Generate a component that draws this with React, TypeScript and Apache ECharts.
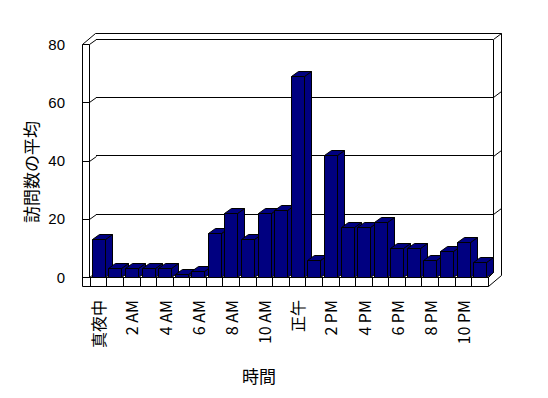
import React, { useEffect, useRef } from 'react';
import * as echarts from 'echarts';

const categories = ['真夜中', '1 AM', '2 AM', '3 AM', '4 AM', '5 AM', '6 AM', '7 AM', '8 AM', '9 AM', '10 AM', '11 AM',
  '正午', '1 PM', '2 PM', '3 PM', '4 PM', '5 PM', '6 PM', '7 PM', '8 PM', '9 PM', '10 PM', '11 PM'];
const visits = [13, 3, 3, 3, 3, 1, 2, 15, 22, 13, 22, 23, 69, 6, 42, 17, 17, 19, 10, 10, 6, 9, 12, 5];
const yTicks = [0, 20, 40, 60, 80];
const yName = '訪問数の平均';
const xName = '時間';

const NAVY = '#000080';
const DX = 7;
const DY = -5;

export default function App() {
  const ref = useRef<HTMLDivElement>(null);
  useEffect(() => {
    document.body.style.margin = '0';
    const chart = echarts.init(ref.current!, null, { renderer: 'svg' });
    const cjk = '"Noto Sans CJK JP", "Liberation Sans", sans-serif';
    chart.setOption({
      animation: false,
      backgroundColor: '#ffffff',
      grid: [
        { left: 90, top: 44, width: 398, height: 233 },
        { left: 96, top: 39, width: 397, height: 174.75 },
      ],
      xAxis: [
        {
          type: 'category',
          gridIndex: 0,
          data: categories,
          axisLine: { show: true, lineStyle: { color: '#000', width: 1 } },
          axisTick: { show: true, interval: 0, length: 9, lineStyle: { color: '#000' } },
          axisLabel: {
            interval: 1,
            rotate: 90,
            margin: 23,
            color: '#000',
            fontSize: 16,
            fontFamily: cjk,
          },
          splitLine: { show: false },
        },
        { type: 'value', gridIndex: 1, show: false, min: 0, max: 1 },
      ],
      yAxis: [
        {
          type: 'value',
          gridIndex: 0,
          min: 0,
          max: 80,
          interval: 20,
          axisLine: { show: false },
          axisTick: { show: false },
          splitLine: { show: false },
          axisLabel: { margin: 25, color: '#000', fontSize: 15, fontFamily: '"Liberation Sans", sans-serif' },
        },
        {
          type: 'value',
          gridIndex: 1,
          min: 20,
          max: 80,
          interval: 20,
          axisLine: { show: false },
          axisTick: { show: false },
          axisLabel: { show: false },
          splitLine: { show: true, lineStyle: { color: '#000', width: 1 } },
        },
      ],
      series: [
        {
          type: 'custom',
          xAxisIndex: 0,
          yAxisIndex: 0,
          z: 5,
          data: visits.map((v, i) => [i, v]),
          renderItem: (params: any, api: any) => {
            const i = api.value(0);
            const v = api.value(1);
            const top = api.coord([i, v]);
            const base = api.coord([i, 0]);
            const bw = Math.round(api.size([1, 0])[0] * 0.76);
            const x0 = Math.round(top[0] - bw / 2) + 0.5;
            const x1 = x0 + bw;
            const y = Math.round(top[1]) + 0.5;
            const y0 = Math.round(base[1]) + 0.5;
            const st = { fill: NAVY, stroke: '#000', lineWidth: 1 };
            return {
              type: 'group',
              children: [
                { type: 'polygon', shape: { points: [[x1, y], [x1 + DX, y + DY], [x1 + DX, y0 + DY], [x1, y0]] }, style: st },
                { type: 'polygon', shape: { points: [[x0, y], [x0 + DX, y + DY], [x1 + DX, y + DY], [x1, y]] }, style: st },
                { type: 'polygon', shape: { points: [[x0, y], [x1, y], [x1, y0], [x0, y0]] }, style: st },
              ],
            };
          },
        },
      ],
    });

    const yp = (v: number) => Math.round(chart.convertToPixel({ yAxisIndex: 0 }, v) as number) + 0.5;
    const ln = { stroke: '#000', lineWidth: 1, fill: 'none' };
    const els: any[] = [];
    const yTop = yp(80);
    const yBot = yp(0);
    const L = 82.5, LI = 89.5, LB = 96.5, RI = 493.5, RO = 501.5, FR = 488.5, FB = 286.5;
    els.push({ type: 'polygon', shape: { points: [[L, FB], [L, yTop], [95.5, yTop - 11], [RO, yTop - 11], [RO, 275.5], [FR, FB]] }, style: { stroke: '#000', lineWidth: 1, fill: 'none' } });
    els.push({ type: 'polyline', shape: { points: [[LI, yTop], [LI, yBot]] }, style: ln });
    yTicks.forEach((v) => {
      const y = yp(v);
      els.push({ type: 'polyline', shape: { points: [[L, y], [LI, y], [LB, y - 5]] }, style: ln });
      if (v > 0 && v < 80) {
        els.push({ type: 'polyline', shape: { points: [[RI, y - 5], [RO, y - 11]] }, style: ln });
      }
    });
    els.push({ type: 'polyline', shape: { points: [[RI, yTop - 5], [RI, yBot - 5], [FR, yBot]] }, style: ln });
    els.push({ type: 'polyline', shape: { points: [[RI, yTop - 5], [RO, yTop - 11]] }, style: ln });
    els.push({ type: 'polyline', shape: { points: [[L, yBot], [90.5, yBot]] }, style: ln });
    els.push({ type: 'polyline', shape: { points: [[FR, yBot], [FR, FB]] }, style: ln });
    els.push({
      type: 'text', x: 30, y: 172, rotation: Math.PI / 2,
      style: { text: yName, fill: '#000', fontSize: 17, fontFamily: cjk, align: 'center', verticalAlign: 'middle' },
    });
    els.push({
      type: 'text', x: 259, y: 375,
      style: { text: xName, fill: '#000', fontSize: 17, fontFamily: cjk, align: 'center', verticalAlign: 'middle' },
    });
    chart.setOption({ graphic: [{ type: 'group', z: 1, children: els }] });

    return () => chart.dispose();
  }, []);
  return <div ref={ref} style={{ width: 548, height: 398 }} />;
}
